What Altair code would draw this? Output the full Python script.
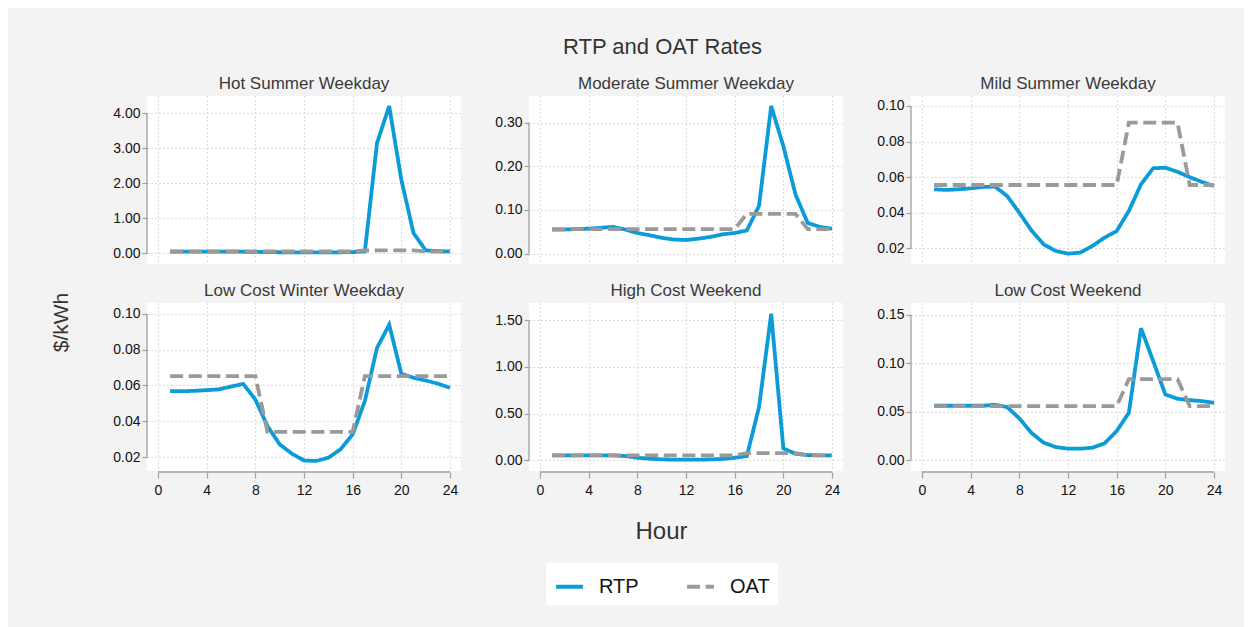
import altair as alt
import pandas as pd

# ---------------- data ----------------
hours = [1, 2, 3, 4, 5, 6, 7, 8, 9, 10, 11, 12, 13, 14, 15, 16, 17, 18, 19, 20, 21, 22, 23, 24]

panel_titles = [
    "Hot Summer Weekday",
    "Moderate Summer Weekday",
    "Mild Summer Weekday",
    "Low Cost Winter Weekday",
    "High Cost Weekend",
    "Low Cost Weekend",
]

hot_rtp = [0.055, 0.053, 0.052, 0.052, 0.053, 0.055, 0.050, 0.045, 0.040, 0.035, 0.032, 0.030,
           0.030, 0.032, 0.035, 0.040, 0.060, 3.15, 4.20, 2.10, 0.58, 0.09, 0.065, 0.060]
hot_oat = [0.056, 0.056, 0.056, 0.056, 0.056, 0.056, 0.056, 0.056, 0.056, 0.056, 0.056, 0.056,
           0.056, 0.056, 0.056, 0.056, 0.091, 0.091, 0.091, 0.091, 0.091, 0.056, 0.056, 0.056]

mod_rtp = [0.055, 0.055, 0.056, 0.057, 0.059, 0.061, 0.055, 0.047, 0.042, 0.036, 0.032, 0.031,
           0.034, 0.038, 0.044, 0.047, 0.053, 0.109, 0.338, 0.246, 0.135, 0.070, 0.061, 0.057]
mod_oat = [0.056, 0.056, 0.056, 0.056, 0.056, 0.056, 0.056, 0.056, 0.056, 0.056, 0.056, 0.056,
           0.056, 0.056, 0.056, 0.056, 0.091, 0.091, 0.091, 0.091, 0.091, 0.056, 0.056, 0.056]

mild_rtp = [0.0532, 0.0528, 0.0532, 0.0537, 0.0545, 0.0547, 0.0494, 0.0400, 0.0300, 0.0222, 0.0185, 0.0170,
            0.0176, 0.0213, 0.0260, 0.0297, 0.0410, 0.0560, 0.0650, 0.0653, 0.0630, 0.0600, 0.0573, 0.0550]
mild_oat = [0.0556, 0.0556, 0.0556, 0.0556, 0.0556, 0.0556, 0.0556, 0.0556, 0.0556, 0.0556, 0.0556, 0.0556,
            0.0556, 0.0556, 0.0556, 0.0556, 0.0906, 0.0906, 0.0906, 0.0906, 0.0906, 0.0556, 0.0556, 0.0556]

lcw_rtp = [0.0568, 0.0568, 0.0570, 0.0574, 0.0578, 0.0594, 0.0609, 0.0522, 0.0373, 0.0271, 0.0219, 0.0181,
           0.0178, 0.0196, 0.0243, 0.0327, 0.0513, 0.0810, 0.0940, 0.0665, 0.0643, 0.0628, 0.0610, 0.0587]
lcw_oat = [0.0652, 0.0652, 0.0652, 0.0652, 0.0652, 0.0652, 0.0652, 0.0652, 0.0341, 0.0341, 0.0341, 0.0341,
           0.0341, 0.0341, 0.0341, 0.0341, 0.0652, 0.0652, 0.0652, 0.0652, 0.0652, 0.0652, 0.0652, 0.0652]

hcw_rtp = [0.053, 0.053, 0.053, 0.053, 0.053, 0.053, 0.046, 0.028, 0.018, 0.011, 0.007, 0.007,
           0.007, 0.010, 0.015, 0.028, 0.046, 0.57, 1.57, 0.128, 0.070, 0.057, 0.053, 0.053]
hcw_oat = [0.053, 0.053, 0.053, 0.053, 0.053, 0.053, 0.053, 0.053, 0.053, 0.053, 0.053, 0.053,
           0.053, 0.053, 0.053, 0.053, 0.078, 0.078, 0.078, 0.078, 0.078, 0.053, 0.053, 0.053]

lcwe_rtp = [0.0560, 0.0560, 0.0560, 0.0560, 0.0560, 0.0570, 0.0546, 0.0430, 0.0280, 0.0179, 0.0134, 0.0117,
            0.0117, 0.0127, 0.0172, 0.0299, 0.0487, 0.1360, 0.1020, 0.0676, 0.0632, 0.0618, 0.0608, 0.0590]
lcwe_oat = [0.0556, 0.0556, 0.0556, 0.0556, 0.0556, 0.0556, 0.0556, 0.0556, 0.0556, 0.0556, 0.0556, 0.0556,
            0.0556, 0.0556, 0.0556, 0.0556, 0.0834, 0.0834, 0.0834, 0.0834, 0.0834, 0.0556, 0.0556, 0.0556]

y_ticks = [
    [0, 1, 2, 3, 4],
    [0, 0.1, 0.2, 0.3],
    [0.02, 0.04, 0.06, 0.08, 0.10],
    [0.02, 0.04, 0.06, 0.08, 0.10],
    [0, 0.5, 1.0, 1.5],
    [0, 0.05, 0.10, 0.15],
]
y_domains = [
    [-0.30, 4.49],
    [-0.024, 0.361],
    [0.0112, 0.1056],
    [0.0122, 0.1061],
    [-0.114, 1.685],
    [-0.0113, 0.162],
]
x_ticks = [0, 4, 8, 12, 16, 20, 24]
series_names = ["RTP", "OAT"]

# ---------------- table ----------------
series_data = [
    (hot_rtp, hot_oat), (mod_rtp, mod_oat), (mild_rtp, mild_oat),
    (lcw_rtp, lcw_oat), (hcw_rtp, hcw_oat), (lcwe_rtp, lcwe_oat),
]
rows = []
for title, (rtp, oat) in zip(panel_titles, series_data):
    for h, v in zip(hours, rtp):
        rows.append({"panel": title, "hour": h, "series": "RTP", "value": v})
    for h, v in zip(hours, oat):
        rows.append({"panel": title, "hour": h, "series": "OAT", "value": v})
df = pd.DataFrame(rows)
one = pd.DataFrame({"k": [0]})

# ---------------- style ----------------
FONT = "Liberation Sans"
BLUE = "#0a9bd8"
GREY = "#9a9a9a"
AXIS_GREY = "#a0a0a0"
GRID = "#b8b8b8"
W, H = 314, 168

legend = alt.Legend(
    title=None, orient="none", direction="horizontal", legendX=399, legendY=467,
    fillColor="white", padding=8, symbolType="stroke", symbolSize=720,
    symbolStrokeWidth=4, labelFontSize=20, labelFont=FONT, labelColor="#111",
    labelOffset=14, columnPadding=40, symbolLimit=2,
)
color = alt.Color("series:N", scale=alt.Scale(domain=series_names, range=[BLUE, GREY]), legend=legend)
dash = alt.StrokeDash("series:N", scale=alt.Scale(domain=series_names, range=[[1, 0], [13, 5.6]]), legend=legend)


def panel(i, bottom, ytitle=None, xtitle=None):
    name = panel_titles[i]
    x_extra = {}
    if xtitle:
        x_extra = {"titleFontSize": 24, "titleFont": FONT, "titleFontWeight": "normal", "titleColor": "#333",
                   "titleX": 132, "titleY": 66, "titleBaseline": "alphabetic", "titleAlign": "center"}
    y_extra = {}
    if ytitle:
        # shared y label, hung from the top-left panel so it sits between the two rows' left axes
        y_extra = {"titleFontSize": 21, "titleFont": FONT, "titleFontWeight": "normal", "titleColor": "#333",
                   "titleX": -86, "titleY": 226, "titleBaseline": "middle", "titleAlign": "center",
                   "titleAngle": 270}
    x_axis = alt.Axis(
        values=x_ticks, labels=bottom, ticks=bottom, domain=False, grid=True,
        gridDash=[1, 3], gridColor=GRID, gridWidth=1, tickSize=6, tickColor=AXIS_GREY,
        tickWidth=1.2, labelFontSize=14, labelFont=FONT, labelColor="#111", labelPadding=5,
        offset=1 if bottom else 0, title=xtitle if xtitle else None, **x_extra,
    )
    y_axis = alt.Axis(
        values=y_ticks[i], format=".2f", domain=False, grid=True, gridDash=[1, 3], gridColor=GRID,
        gridWidth=1, tickSize=5, tickColor=AXIS_GREY, tickWidth=1.2, labelFontSize=14, labelFont=FONT,
        labelColor="#111", labelPadding=2, title=ytitle if ytitle else None, **y_extra,
    )
    x = alt.X("hour:Q", scale=alt.Scale(domain=[-0.9, 24.9], nice=False, zero=False), axis=x_axis)
    y = alt.Y("value:Q", scale=alt.Scale(domain=y_domains[i], nice=False, zero=False), axis=y_axis)
    base = alt.Chart(df).transform_filter(alt.datum.panel == name)
    rtp = base.transform_filter(alt.datum.series == "RTP").mark_line(strokeWidth=3.8).encode(
        x=x, y=y, color=color, strokeDash=dash)
    oat = base.transform_filter(alt.datum.series == "OAT").mark_line(strokeWidth=3.8).encode(
        x=x, y=y, color=color, strokeDash=dash)
    yspine = alt.Chart(one).mark_rule(color=AXIS_GREY, strokeWidth=1.3).encode(
        x=alt.value(0),
        y=alt.YDatum(y_ticks[i][0], axis=y_axis),
        y2=alt.Y2Datum(y_ticks[i][-1]),
    )
    layers = [rtp, oat, yspine]
    if bottom:
        xspine = alt.Chart(one).mark_rule(color=AXIS_GREY, strokeWidth=1.3).encode(
            y=alt.value(H + 1),
            x=alt.XDatum(x_ticks[0], axis=x_axis),
            x2=alt.X2Datum(x_ticks[-1]),
        )
        layers.append(xspine)
    return alt.layer(*layers).properties(
        width=W, height=H,
        title=alt.TitleParams(name, fontSize=17, font=FONT, fontWeight="normal", color="#3a3a3a",
                              offset=3, frame="group"),
    )


chart = alt.concat(
    panel(0, False, ytitle="$/kWh"), panel(1, False), panel(2, False),
    panel(3, True), panel(4, True, xtitle="Hour"), panel(5, True),
    columns=3, spacing={"row": 39, "column": 68}, bounds="flush",
).properties(
    title=alt.TitleParams("RTP and OAT Rates", fontSize=22, font=FONT, fontWeight="normal",
                          color="#333", anchor="middle", offset=16, dx=25),
    padding={"left": 42, "top": 28, "right": 19, "bottom": 40},
    background="#f3f3f3",
).resolve_scale(color="shared", strokeDash="shared").configure_view(
    fill="white", stroke=None
)

chart.save("out.html", embed_options={"renderer": "svg", "actions": False})
